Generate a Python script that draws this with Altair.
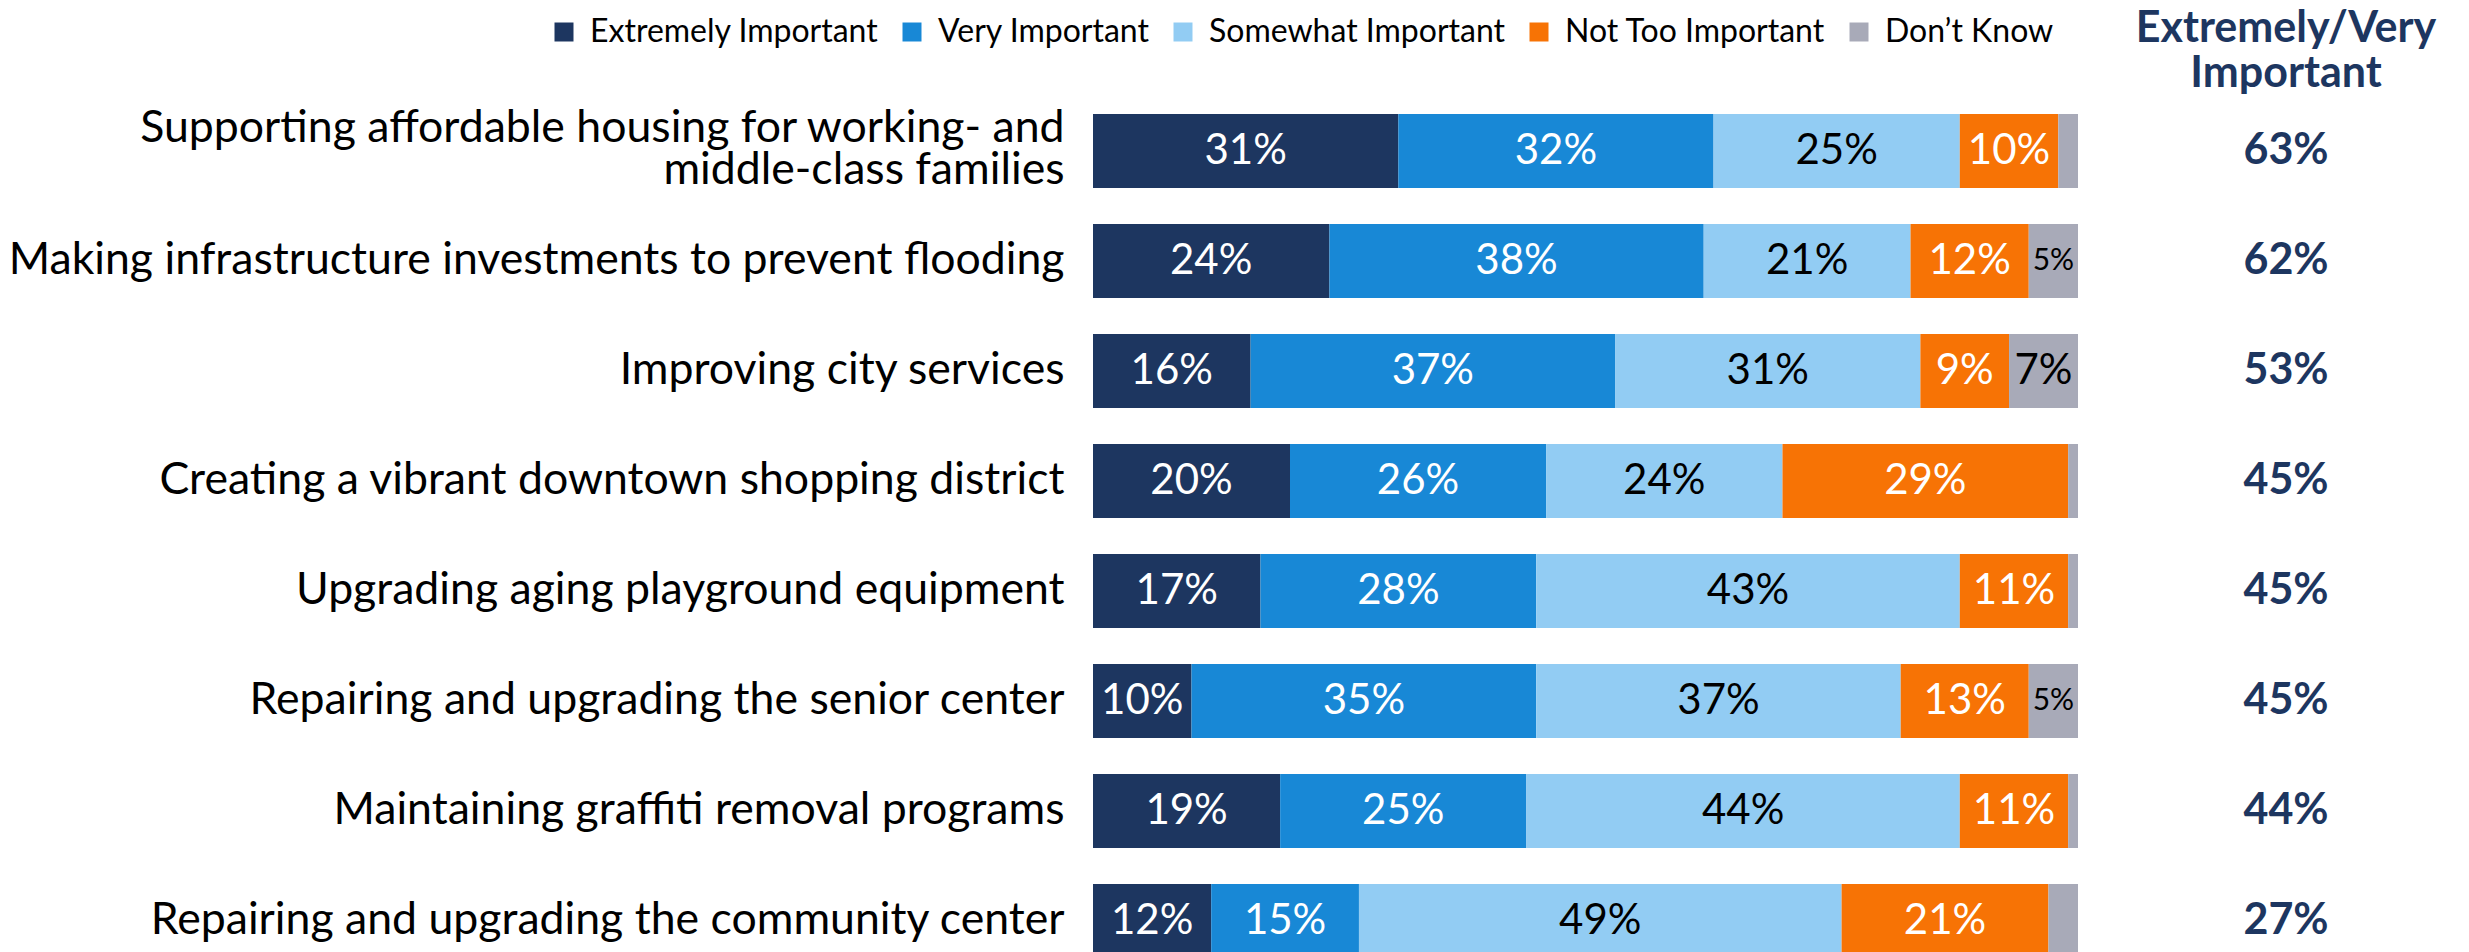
import altair as alt
import pandas as pd

categories = [
    "Supporting affordable housing for working- and|middle-class families",
    "Making infrastructure investments to prevent flooding",
    "Improving city services",
    "Creating a vibrant downtown shopping district",
    "Upgrading aging playground equipment",
    "Repairing and upgrading the senior center",
    "Maintaining graffiti removal programs",
    "Repairing and upgrading the community center",
]
series = ["Extremely Important", "Very Important", "Somewhat Important",
          "Not Too Important", "Don\u2019t Know"]
extremely = [31, 24, 16, 20, 17, 10, 19, 12]
very = [32, 38, 37, 26, 28, 35, 25, 15]
somewhat = [25, 21, 31, 24, 43, 37, 44, 49]
not_too = [10, 12, 9, 29, 11, 13, 11, 21]
dont_know = [2, 5, 7, 1, 1, 5, 1, 3]
combined = [63, 62, 53, 45, 45, 45, 44, 27]
header = ["Extremely/Very", "Important"]

colors = ["#1D3660", "#1888D6", "#92CCF3", "#F77305", "#A8AAB8"]
NAVY = "#1D3660"
FONT = "Lato"

rows = []
for i, cat in enumerate(categories):
    for j, vals in enumerate([extremely, very, somewhat, not_too, dont_know]):
        rows.append({"category": cat, "series": series[j], "order": j, "value": vals[i]})
df = pd.DataFrame(rows)
df_tot = pd.DataFrame({"category": categories, "combined": combined,
                       "col": ["Extremely/Very Important"] * len(categories)})

yscale = alt.Scale(paddingInner=0.327, paddingOuter=0.1636)

base = alt.Chart(df).transform_stack(
    stack="value", groupby=["category"],
    sort=[alt.SortField("order", order="ascending")], as_=["x0", "x1"]
).transform_calculate(mid="(datum.x0 + datum.x1) / 2", lbl="datum.value + '%'")

bars = base.mark_bar().encode(
    y=alt.Y("category:N", sort=categories, scale=yscale,
            axis=alt.Axis(title=None, labelExpr="split(datum.label, '|')",
                          labelFont=FONT, labelFontSize=44.6, labelLimit=1400,
                          labelPadding=29, ticks=False, domain=False,
                          labelColor="black", labelLineHeight=42,
                          labelOffset={"condition": {"test": "indexof(datum.value, '|') >= 0",
                                                     "value": -22},
                                       "value": 0})),
    x=alt.X("x0:Q", scale=alt.Scale(domain=[0, 100]), axis=None),
    x2="x1:Q",
    color=alt.Color("series:N", scale=alt.Scale(domain=series, range=colors),
                    legend=alt.Legend(orient="none", direction="horizontal",
                                      legendX=-545, legendY=-80, title=None,
                                      symbolType="square", symbolSize=361,
                                      symbolStrokeWidth=0, labelFont=FONT,
                                      labelFontSize=32, labelColor="black",
                                      labelOffset=10, columnPadding=17,
                                      labelLimit=600, padding=0, rowPadding=0)),
)

text = base.transform_filter("datum.value >= 5").mark_text(
    font=FONT, baseline="middle", align="center"
).encode(
    y=alt.Y("category:N", sort=categories),
    x=alt.X("mid:Q"),
    text="lbl:N",
    color=alt.condition("datum.order == 2 || datum.order == 4",
                        alt.value("black"), alt.value("white")),
    size=alt.condition("datum.value <= 5", alt.value(30), alt.value(42)),
)

main = alt.layer(bars, text).properties(width=985, height=880)

right = alt.Chart(df_tot).transform_calculate(
    pct="datum.combined + '%'"
).mark_text(font=FONT, fontWeight="bold", fontSize=43, color=NAVY,
            baseline="middle", align="center").encode(
    y=alt.Y("category:N", sort=categories, scale=yscale, axis=None),
    x=alt.X("col:N", axis=None),
    text="pct:N",
).properties(
    width=300, height=880,
    title=alt.TitleParams(text=header, font=FONT, fontSize=43, fontWeight="bold",
                          color=NAVY, anchor="middle", lineHeight=45, offset=0),
)

chart = alt.hconcat(main, right, spacing=57).properties(padding=0).configure_view(stroke=None)

chart.save("out.html", embed_options={"renderer": "svg", "actions": False})
